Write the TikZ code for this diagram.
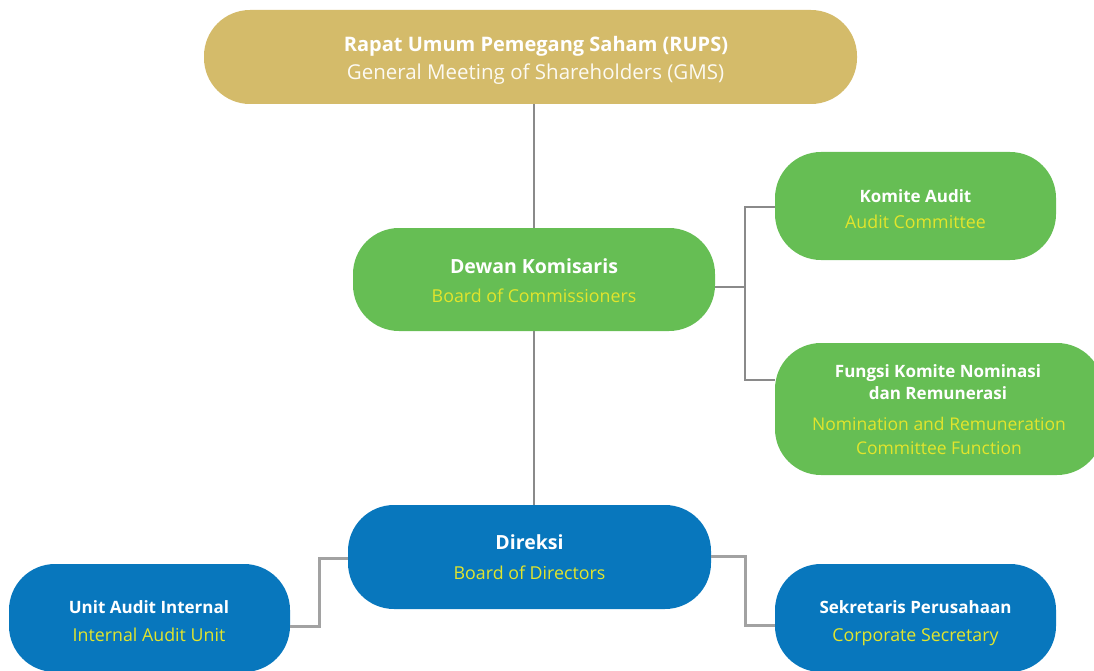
\documentclass[tikz,border=0pt]{standalone}
\usepackage{fontspec}
\setmainfont{Open Sans}
\definecolor{gold}{HTML}{D4BB6A}
\definecolor{grn}{HTML}{66BE54}
\definecolor{blu}{HTML}{0877BD}
\definecolor{ylw}{HTML}{E2E52C}
\definecolor{lgray}{HTML}{8A8A8A}
\definecolor{lgray2}{HTML}{A2A2A2}
\begin{document}
\begin{tikzpicture}[x=1pt,y=-1pt,
  box/.style={rectangle, rounded corners=46pt, inner sep=0pt, align=center, text=white},
  ttl/.style={font=\bfseries\fontsize{17}{21}\selectfont, text=white},
  bigttl/.style={font=\bfseries\fontsize{19.5}{23}\selectfont, text=white},
  sub/.style={font=\fontsize{17.8}{21}\selectfont, text=ylw},
  conn/.style={draw=lgray, line width=1.5pt},
  conn2/.style={draw=lgray2, line width=3pt}]
\useasboundingbox (0,0) rectangle (1094,671);
\clip (0,0) rectangle (1094,671);
% boxes
\node[box, fill=gold, minimum width=653pt, minimum height=94pt] (rups) at (530.5,57) {};
\node[box, fill=grn, minimum width=362pt, minimum height=103pt] (dk) at (534,279.5) {};
\node[box, fill=grn, minimum width=281pt, minimum height=108pt] (ka) at (915.5,206) {};
\node[box, fill=grn, minimum width=328pt, minimum height=132pt] (fk) at (939,409) {};
\node[box, fill=blu, minimum width=363pt, minimum height=104pt] (dir) at (529.5,557) {};
\node[box, fill=blu, minimum width=281pt, minimum height=108pt] (uai) at (149.5,618) {};
\node[box, fill=blu, minimum width=281pt, minimum height=108pt] (sp) at (915.5,618) {};
% texts
\node[ttl, font=\bfseries\fontsize{20}{24}\selectfont] (t1) at (536,46) {Rapat Umum Pemegang Saham (RUPS)};
\node[sub, font=\fontsize{20.5}{24}\selectfont, text=white!92!gold] (s1) at (535.5,74) {General Meeting of Shareholders (GMS)};
\node[bigttl] (t2) at (534,266) {Dewan Komisaris};
\node[sub] (s2) at (534,296) {Board of Commissioners};
\node[ttl] (t3) at (915.5,196) {Komite Audit};
\node[sub] (s3) at (915.5,222) {Audit Committee};
\node[ttl, align=center, font=\bfseries\fontsize{17}{22}\selectfont] (t4) at (938,382) {Fungsi Komite Nominasi\\dan Remunerasi};
\node[sub, align=center, font=\fontsize{17.5}{24}\selectfont] (s4) at (939,436) {Nomination and Remuneration\\Committee Function};
\node[bigttl] (t5) at (529.5,542) {Direksi};
\node[sub] (s5) at (529.5,573) {Board of Directors};
\node[ttl] (t6) at (149,607) {Unit Audit Internal};
\node[sub] (s6) at (149,635) {Internal Audit Unit};
\node[ttl] (t7) at (915.5,607) {Sekretaris Perusahaan};
\node[sub] (s7) at (915.5,637.5) {Corporate Secretary};
% connectors
\draw[conn] (rups.south -| dk.north) -- (dk.north);
\draw[conn] (dk.south) -- (dir.north -| dk.south);
\coordinate (bx) at (745,287);
\draw[conn] (dk.east |- bx) -- (bx);
\draw[conn] (ka.west |- 0,207) -| (bx) |- (fk.west |- 0,380);
\draw[conn2] (dir.west |- 0,558) -| (319,626) -- (uai.east |- 0,626);
\draw[conn2] (dir.east |- 0,556) -| (745,625) -- (sp.west |- 0,625);
\end{tikzpicture}
\end{document}
